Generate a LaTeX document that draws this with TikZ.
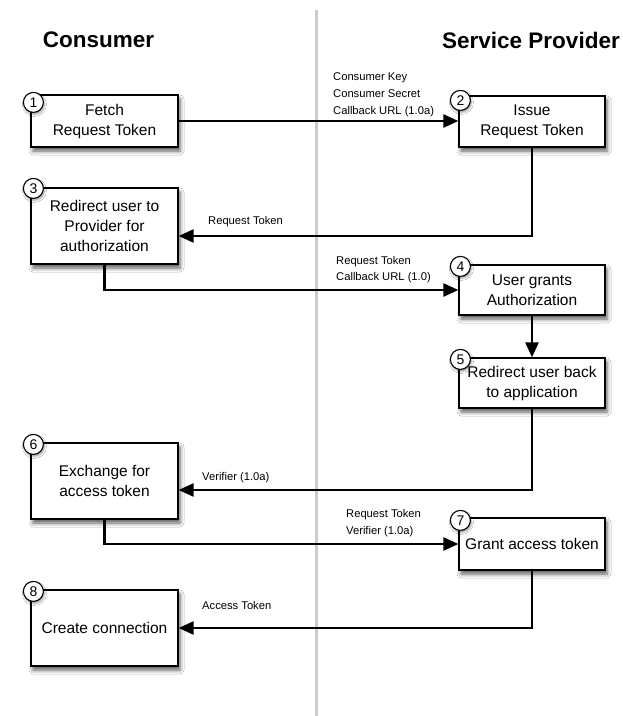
\documentclass[tikz,border=0pt]{standalone}
\usepackage{fontspec}
\setmainfont{Liberation Sans}
\usetikzlibrary{arrows.meta,shadows.blur,calc}
\begin{document}
\begin{tikzpicture}[x=1pt,y=-1pt,
  stepbox/.style={draw=black, line width=1.2pt, fill=white, align=center,
    font=\fontsize{15.5}{20}\selectfont, inner sep=0pt,
    blur shadow={shadow xshift=2pt, shadow yshift=-4pt, shadow blur radius=4pt, shadow opacity=65}},
  leftbox/.style={stepbox, minimum width=147pt},
  rightbox/.style={stepbox, minimum width=146pt},
  numcirc/.style={circle, draw=black, line width=1.1pt, fill=white, minimum size=20pt,
    inner sep=0pt, font=\fontsize{14}{14}\selectfont,
    blur shadow={shadow xshift=1pt, shadow yshift=-2pt, shadow blur radius=2pt, shadow opacity=40}},
  flow/.style={line width=2.4pt, -{Triangle[length=15pt,width=13pt]}},
  lbl/.style={font=\fontsize{11.2}{16.8}\selectfont, align=left, inner sep=0pt, anchor=west},
  title/.style={font=\fontsize{22.5}{27}\bfseries\selectfont, inner sep=0pt}]

\useasboundingbox[fill=white] (0,0) rectangle (623,716);

% lane divider
\coordinate (divtop) at (316,10);
\coordinate (divbot) at (316,716);
\draw[line width=3pt, black!20] (divtop) -- (divbot);

% titles
\node[title] (tcons) at (98.5,40) {Consumer};
\node[title] (tsp) at (531,40) {Service Provider};

% boxes
\node[leftbox, minimum height=52pt] (b1) at (104.5,121) {Fetch\\Request Token};
\node[rightbox, minimum height=51pt] (b2) at (532,121.5) {Issue\\Request Token};
\node[leftbox, minimum height=76pt] (b3) at (104.5,226) {Redirect user to\\Provider for\\authorization};
\node[rightbox, minimum height=50pt] (b4) at (532,290) {User grants\\Authorization};
\node[rightbox, minimum height=50pt] (b5) at (532,383) {Redirect user back\\to application};
\node[leftbox, minimum height=76pt] (b6) at (104.5,481) {Exchange for\\access token};
\node[rightbox, minimum height=52pt] (b7) at (532,544) {Grant access token};
\node[leftbox, minimum height=76pt] (b8) at (104.5,628) {Create connection};

% connectors
\draw[flow] (b1.east) -- (b1.east -| b2.west);
\draw[flow] (b2.south) |- ([yshift=-10pt]b3.east);
\draw[flow] (b3.south) |- (b4.west);
\draw[flow] (b4.south) -- (b5.north);
\draw[flow] (b5.south) |- ([yshift=-9pt]b6.east);
\draw[flow] (b6.south) |- (b7.west);
\draw[flow] (b7.south) |- (b8.east);

% labels
\node[lbl] (l12) at (333,95) {Consumer Key\\Consumer Secret\\Callback URL (1.0a)};
\node[lbl] (l23) at (208,222) {Request Token};
\node[lbl] (l34) at (336,269.5) {Request Token\\Callback URL (1.0)};
\node[lbl] (l56) at (202,478) {Verifier (1.0a)};
\node[lbl] (l67) at (346,523) {Request Token\\Verifier (1.0a)};
\node[lbl] (l78) at (202,605) {Access Token};

% step numbers
\node[numcirc] (n1) at ($(b1.north west)+(3,8)$) {1};
\node[numcirc] (n2) at ($(b2.north west)+(2,5)$) {2};
\node[numcirc] (n3) at ($(b3.north west)+(3,1)$) {3};
\node[numcirc] (n4) at ($(b4.north west)+(2,2)$) {4};
\node[numcirc] (n5) at ($(b5.north west)+(2,2)$) {5};
\node[numcirc] (n6) at ($(b6.north west)+(3,2)$) {6};
\node[numcirc] (n7) at ($(b7.north west)+(2,3)$) {7};
\node[numcirc] (n8) at ($(b8.north west)+(3,2)$) {8};
\end{tikzpicture}
\end{document}
